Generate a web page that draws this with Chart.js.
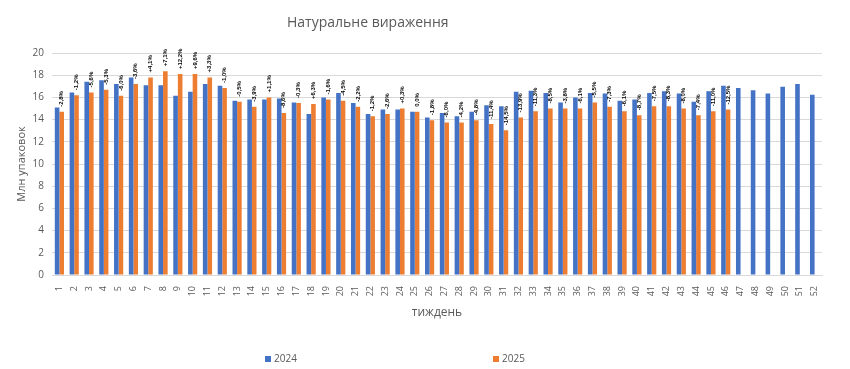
<!DOCTYPE html>
<html>
<head>
<meta charset="utf-8">
<script src="https://cdn.jsdelivr.net/npm/chart.js@4"></script>
<style>
  body{ margin:0; background:#fff; }
  #wrap{ position:relative; width:850px; height:369px; font-family:"Open Sans", sans-serif; color:#595959; }
  #title{ position:absolute; left:287px; top:12px; font-size:14px; white-space:nowrap; }
  .leg{ position:absolute; top:351px; font-size:10px; white-space:nowrap; }
  .leg i{ display:inline-block; width:6px; height:6px; margin-right:3px; vertical-align:0px; }
</style>
</head>
<body>
<div id="wrap">
  <canvas id="chart" width="850" height="369"></canvas>
  <div id="title">Натуральне вираження</div>
  <div class="leg" style="left:265px"><i style="background:#4472C4"></i>2024</div>
  <div class="leg" style="left:493px"><i style="background:#ED7D31"></i>2025</div>
</div>

<script>
/* =========================
   DATA
========================= */
const weeks = Array.from({length:52}, (_, i) => String(i + 1))

const values2024 = [
  15.1, 16.45, 17.4, 17.55, 17.2, 17.8, 17.1, 17.1, 16.15, 16.5,
  17.2, 17.05, 15.7, 15.8, 15.8, 15.9, 15.55, 14.5, 16.0, 16.4,
  15.5, 14.5, 14.9, 14.9, 14.7, 14.2, 14.6, 14.3, 14.7, 15.3,
  15.2, 16.5, 16.6, 16.4, 15.55, 16.0, 16.4, 16.35, 15.7, 15.8,
  16.4, 16.55, 16.35, 15.6, 16.55, 17.05, 16.85, 16.65, 16.35, 16.95,
  17.2, 16.25
]

const values2025 = [
  14.7, 16.2, 16.45, 16.7, 16.15, 17.2, 17.8, 18.35, 18.1, 18.1,
  17.8, 16.85, 15.6, 15.15, 16.0, 14.6, 15.5, 15.4, 15.8, 15.7,
  15.15, 14.3, 14.5, 15.0, 14.7, 13.95, 13.75, 13.75, 13.95, 13.6,
  13.05, 14.2, 14.75, 15.0, 15.0, 15.0, 15.55, 15.15, 14.75, 14.4,
  15.2, 15.2, 15.0, 14.4, 14.75, 14.9
]

const changeLabels = [
  "-2,8%", "-1,2%", "-5,6%", "-5,3%", "-6,0%", "-3,6%", "+4,1%", "+7,1%", "+12,2%", "+9,6%",
  "+3,3%", "-1,0%", "-0,5%", "-3,9%", "+1,1%", "-8,6%", "-0,3%", "+6,3%", "-1,6%", "-4,5%",
  "-2,2%", "-1,2%", "-2,6%", "+0,3%", "0,0%", "-1,8%", "-6,0%", "-4,2%", "-4,8%", "-11,4%",
  "-14,5%", "-13,9%", "-11,3%", "-8,5%", "-3,8%", "-6,1%", "-5,5%", "-7,3%", "-6,1%", "-8,7%",
  "-7,5%", "-8,3%", "-8,0%", "-7,4%", "-11,0%", "-12,5%"
]

const yTicks = { min:0, max:20, step:2 }

/* =========================
   CHANGE LABELS (on the 2025 bars)
========================= */
const changeLabelPlugin = {
  id: "changeLabels",
  afterDatasetsDraw(chart){
    const ctx = chart.ctx
    const bars = chart.getDatasetMeta(1).data
    ctx.save()
    ctx.fillStyle = "#000"
    ctx.font = "bold 6px 'Liberation Sans Narrow', 'Liberation Sans', sans-serif"
    ctx.textAlign = "left"
    ctx.textBaseline = "middle"
    changeLabels.forEach((txt, i) => {
      const bar = bars[i]
      if(!bar) return
      ctx.save()
      ctx.translate(bar.x, bar.y - 5)
      ctx.rotate(-Math.PI / 2)
      ctx.fillText(txt, 0, 0)
      ctx.restore()
    })
    ctx.restore()
  }
}

/* =========================
   CHART
========================= */
new Chart(document.getElementById("chart"), {
  type: "bar",
  data: {
    labels: weeks,
    datasets: [
      { label:"2024", data: values2024, backgroundColor:"#4472C4", categoryPercentage:0.62, barPercentage:1 },
      { label:"2025", data: values2025, backgroundColor:"#ED7D31", categoryPercentage:0.62, barPercentage:1 }
    ]
  },
  options: {
    responsive:false,
    animation:false,
    layout: { padding: { top:53, left:11, right:28, bottom:45 } },
    plugins: {
      legend: { display:false },
      title: { display:false },
      tooltip: { enabled:false }
    },
    scales: {
      x: {
        grid: { display:false },
        border: { display:true, color:"#d9d9d9" },
        ticks: {
          color:"#595959",
          font: { size:9, family:"'Open Sans', sans-serif" },
          minRotation:90, maxRotation:90,
          autoSkip:false,
          padding:3
        },
        title: {
          display:true,
          text:"тиждень",
          color:"#595959",
          font: { size:12, family:"'Open Sans', sans-serif" },
          padding: { top:4, bottom:4 }
        },
        afterFit(scale){ scale.height = 49 }
      },
      y: {
        min: yTicks.min,
        max: yTicks.max,
        grid: { color:"#d9d9d9", drawTicks:false },
        border: { display:false },
        ticks: {
          stepSize: yTicks.step,
          color:"#595959",
          font: { size:10, family:"'Open Sans', sans-serif" },
          padding:8
        },
        title: {
          display:true,
          text:"Млн упаковок",
          color:"#595959",
          font: { size:11, family:"'Open Sans', sans-serif" },
          padding: { top:4, bottom:4 }
        },
        afterFit(scale){ scale.width = 41 }
      }
    }
  },
  plugins: [changeLabelPlugin]
})
</script>
</body>
</html>
